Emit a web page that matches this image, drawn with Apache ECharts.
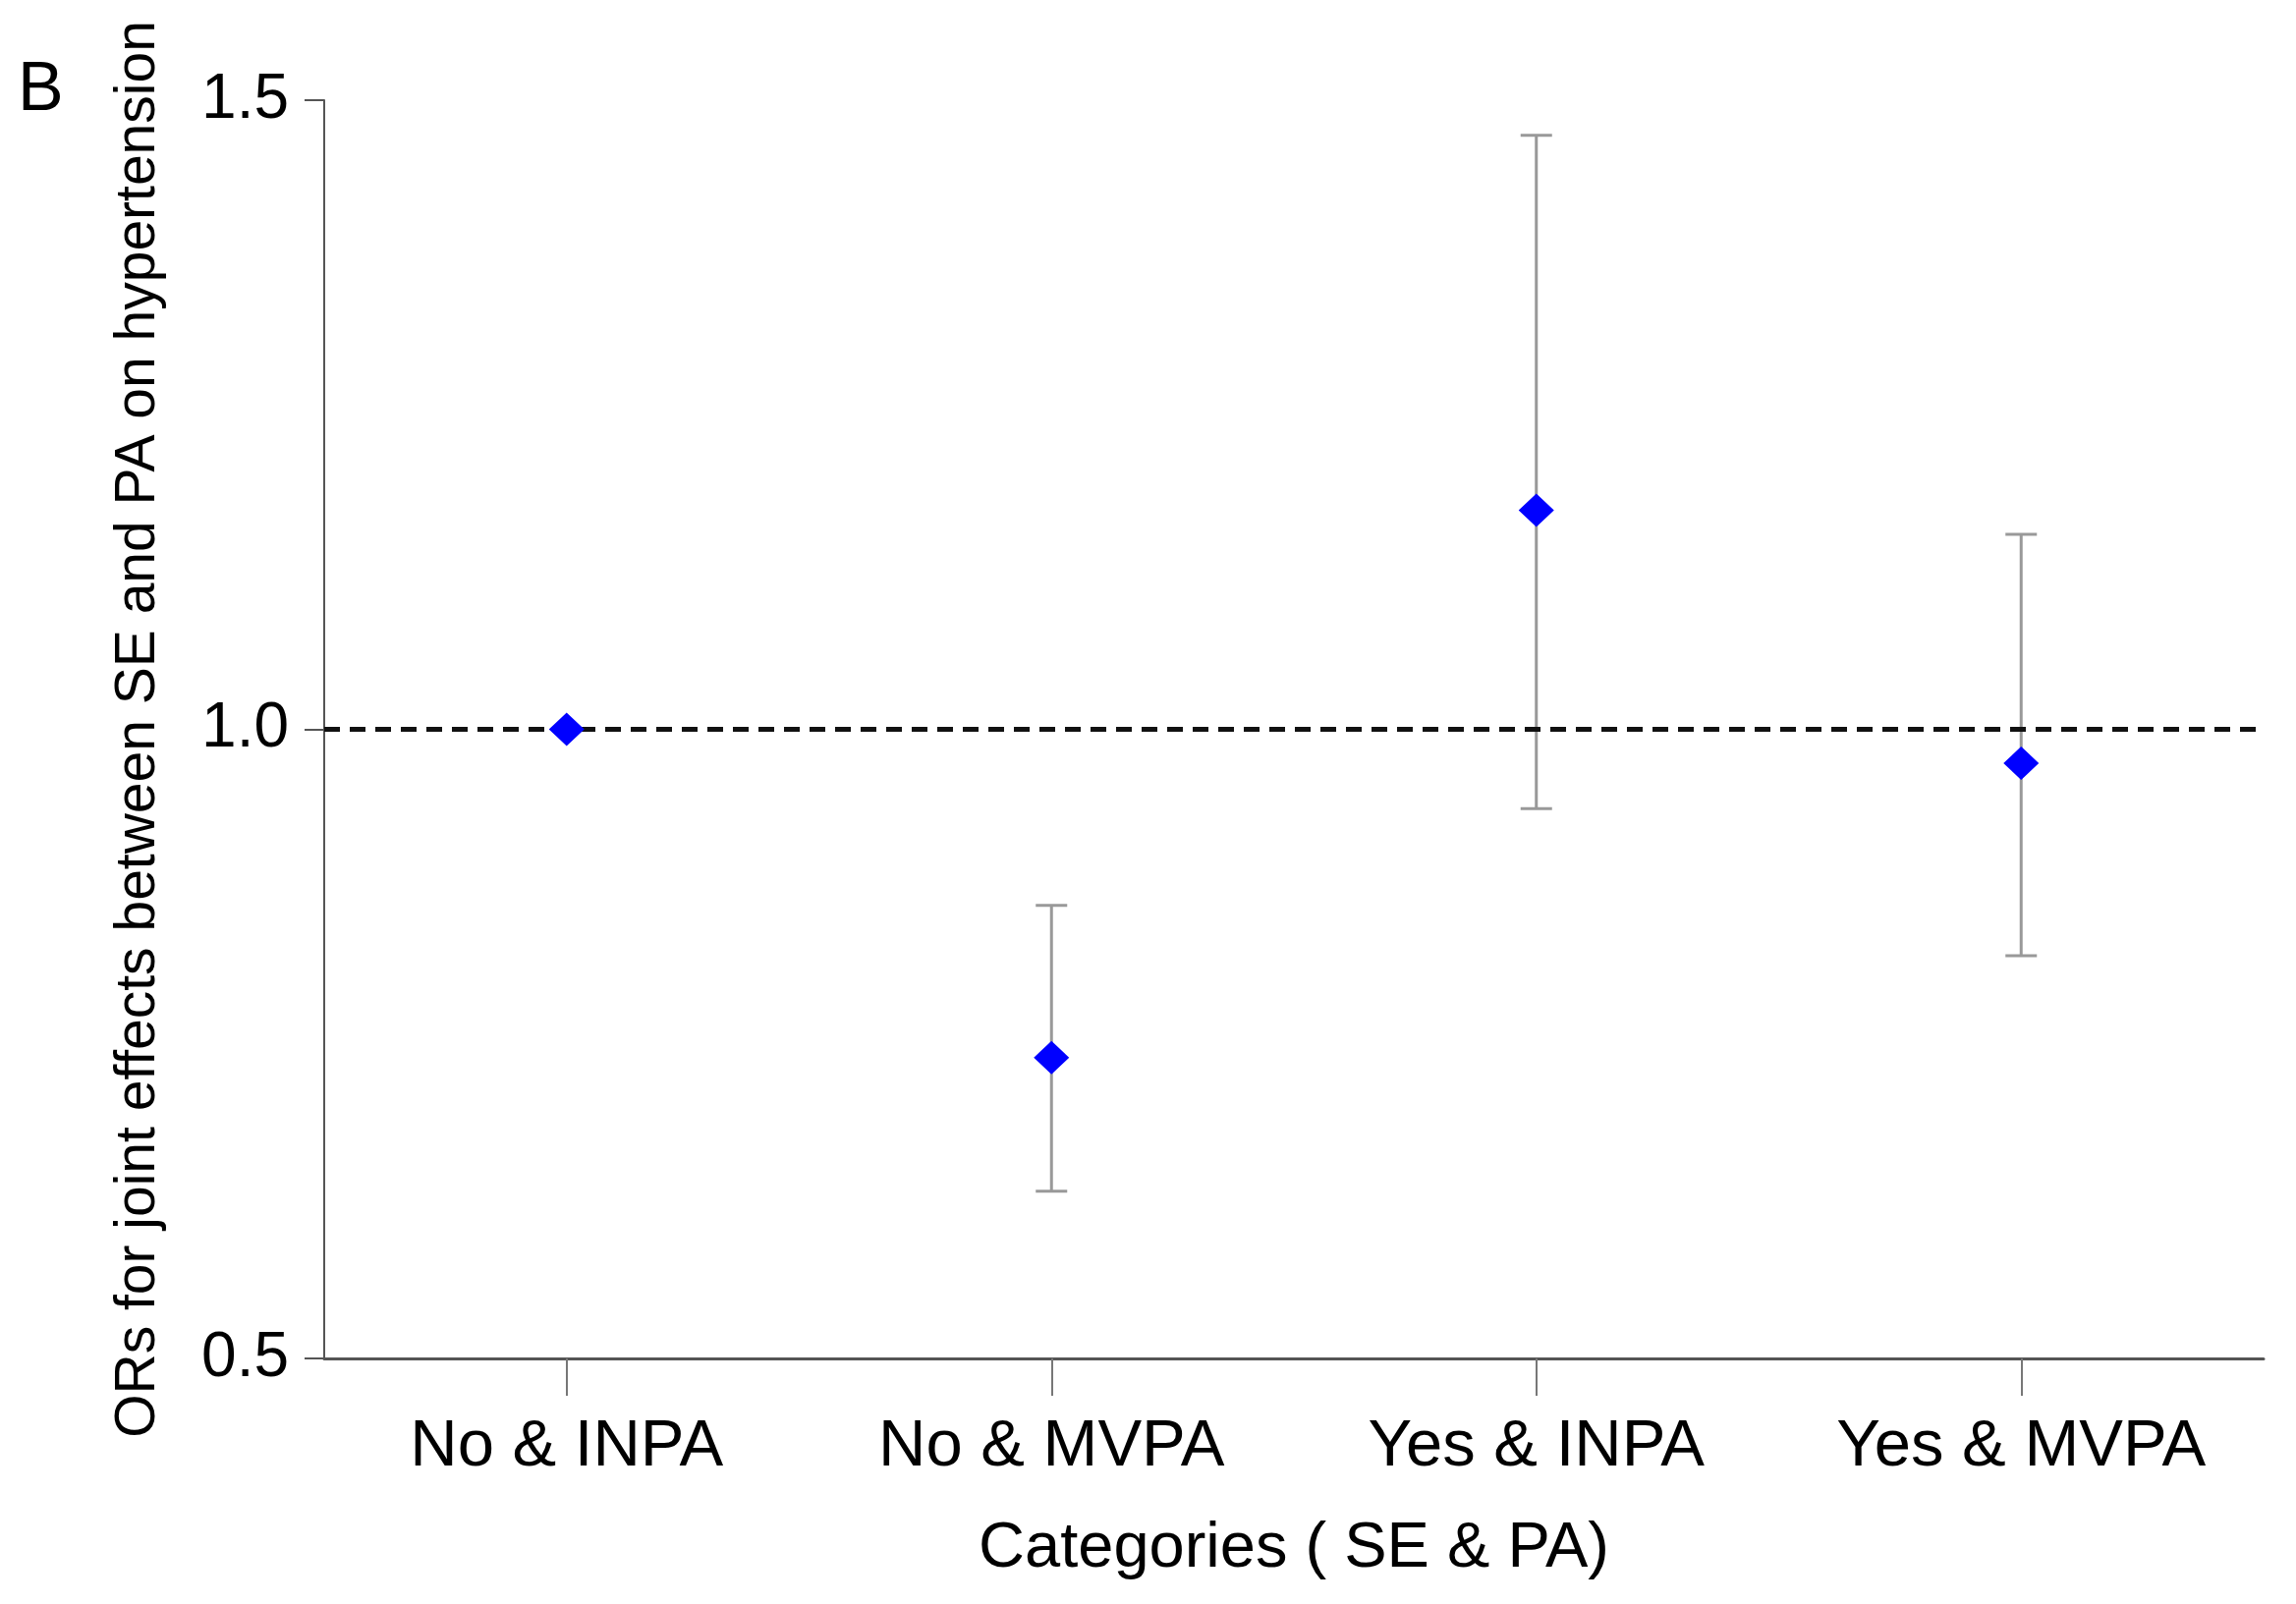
<!DOCTYPE html>
<html>
<head>
<meta charset="utf-8">
<script src="https://cdn.jsdelivr.net/npm/echarts@6/dist/echarts.min.js"></script>
<style>
html,body{margin:0;padding:0;background:#fff;}
#chart{width:2337px;height:1633px;}
</style>
</head>
<body>
<div id="chart"></div>
<script>
const categories = ['No & INPA', 'No & MVPA', 'Yes & INPA', 'Yes & MVPA'];
const orValues = [1.0, 0.739, 1.174, 0.973];
const ciLower = [null, 0.633, 0.937, 0.820];
const ciUpper = [null, 0.860, 1.472, 1.155];
const yTicks = [0.5, 1.0, 1.5];
const refValue = 1.0;

const FONT = 'Liberation Sans, Arial, sans-serif';

const errData = categories.map((c, i) => [i, ciLower[i], ciUpper[i]]).filter(d => d[1] !== null);

const chart = echarts.init(document.getElementById('chart'));
chart.setOption({
  animation: false,
  backgroundColor: '#fff',
  graphic: [{
    type: 'text', left: 18, top: 58,
    style: { text: 'B', font: '70px ' + FONT, fill: '#000' }
  }],
  grid: { left: 330, right: 33, top: 102, bottom: 250, containLabel: false },
  xAxis: {
    type: 'category',
    data: categories,
    boundaryGap: true,
    name: 'Categories ( SE & PA)',
    nameLocation: 'middle',
    nameGap: 162,
    nameTextStyle: { fontFamily: FONT, fontSize: 65, color: '#000' },
    axisLine: { show: true, lineStyle: { color: '#555', width: 3 } },
    axisTick: { show: true, alignWithLabel: true, length: 38, lineStyle: { color: '#777', width: 2 } },
    axisLabel: { fontFamily: FONT, fontSize: 67, color: '#000', margin: 57 },
    splitLine: { show: false }
  },
  yAxis: {
    type: 'value',
    min: 0.5, max: 1.5, interval: 0.5,
    name: 'ORs for joint effects between SE and PA on hypertension',
    nameLocation: 'middle',
    nameRotate: 90,
    nameGap: 160,
    nameTextStyle: { fontFamily: FONT, fontSize: 57, color: '#000' },
    axisLine: { show: true, lineStyle: { color: '#555', width: 2 } },
    axisTick: { show: true, length: 20, lineStyle: { color: '#555', width: 2 } },
    axisLabel: {
      fontFamily: FONT, fontSize: 64, color: '#000', margin: 36,
      formatter: v => yTicks.indexOf(+v.toFixed(2)) >= 0 ? v.toFixed(1) : ''
    },
    splitLine: { show: false }
  },
  series: [
    {
      type: 'custom',
      name: 'CI',
      data: errData,
      z: 2,
      renderItem: function (params, api) {
        const x = api.value(0);
        const lo = api.coord([x, api.value(1)]);
        const hi = api.coord([x, api.value(2)]);
        const cap = 16;
        const style = { stroke: '#999', lineWidth: 3 };
        return {
          type: 'group',
          children: [
            { type: 'line', shape: { x1: lo[0], y1: lo[1], x2: hi[0], y2: hi[1] }, style: style },
            { type: 'line', shape: { x1: lo[0] - cap, y1: lo[1], x2: lo[0] + cap, y2: lo[1] }, style: style },
            { type: 'line', shape: { x1: hi[0] - cap, y1: hi[1], x2: hi[0] + cap, y2: hi[1] }, style: style }
          ]
        };
      }
    },
    {
      type: 'scatter',
      name: 'OR',
      data: orValues,
      symbol: 'diamond',
      symbolSize: [36, 34],
      z: 5,
      itemStyle: { color: '#0000ff', opacity: 1 },
      markLine: {
        silent: true,
        symbol: ['none', 'none'],
        label: { show: false },
        lineStyle: { color: '#111', type: [16, 10], width: 5, opacity: 1 },
        data: [{ yAxis: refValue }],
        z: 3
      }
    }
  ]
});
</script>
</body>
</html>
